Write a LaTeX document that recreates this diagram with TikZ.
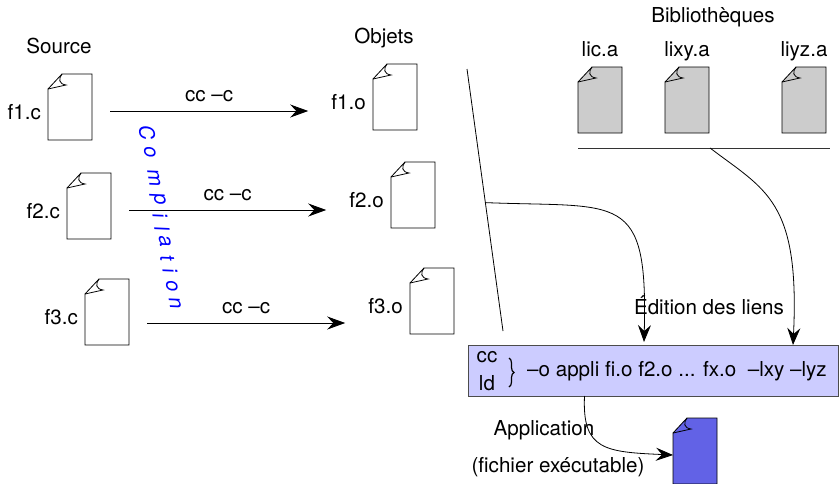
\documentclass[tikz,border=0pt]{standalone}
\usepackage{fontspec}
\setmainfont{TeX Gyre Heros}
\usetikzlibrary{positioning,calc,arrows.meta,decorations.pathreplacing}
\definecolor{boitelien}{RGB}{204,204,255}
\definecolor{bleuappli}{RGB}{98,98,230}
\tikzset{
  fichier/.style={minimum width=44pt,minimum height=66pt,inner sep=0pt,outer sep=0pt},
  nomfichier/.style={inner sep=0pt,yshift=-5pt},
  nomlib/.style={inner sep=0pt,text height=15pt,text depth=5pt},
  fleche/.style={-{Stealth[length=18pt,width=13pt,inset=6pt]},line width=0.9pt},
  courbe/.style={-{Stealth[length=17pt,width=13pt,inset=6pt]},line width=0.8pt},
  lettre/.style={text=blue,font=\fontsize{20.6}{24}\selectfont\itshape,rotate=-80.5,inner sep=0pt}
}
%page icon: name, centre, fill
\newcommand{\page}[3]{%
  \node[fichier] (#1) at (#2) {};
  \filldraw[fill=#3,line width=0.8pt] ([xshift=14pt]#1.north west) -- (#1.north east) -- (#1.south east) -- (#1.south west) -- ([yshift=-15pt]#1.north west) -- cycle;
  \draw[line width=0.8pt] ([yshift=-15pt]#1.north west) -- ([shift={(18pt,-11pt)}]#1.north west) .. controls ([shift={(11pt,-10pt)}]#1.north west) and ([shift={(10pt,-5pt)}]#1.north west) .. ([xshift=14pt]#1.north west);
}
\begin{document}
\begin{tikzpicture}[x=1pt,y=-1pt,font=\fontsize{20.6}{24}\selectfont]
\useasboundingbox (0,0) rectangle (839,483);

%titles
\node (source) at (59,46) {Source};
\node (objets) at (384,38) {Objets};
\node (biblio) at (713,17) {Bibliothèques};

%sources
\page{f1c}{70,107}{white}
\page{f2c}{89,206}{white}
\page{f3c}{107,312}{white}
\node[nomfichier,left=7pt of f1c] (nf1c) {f1.c};
\node[nomfichier,left=7pt of f2c] (nf2c) {f2.c};
\node[nomfichier,left=7pt of f3c] (nf3c) {f3.c};

%objects
\page{f1o}{395,97}{white}
\page{f2o}{413,195}{white}
\page{f3o}{432,301}{white}
\node[nomfichier,left=7pt of f1o] (nf1o) {f1.o};
\node[nomfichier,left=7pt of f2o] (nf2o) {f2.o};
\node[nomfichier,left=7pt of f3o] (nf3o) {f3.o};

%libraries
\page{lic}{600,100}{black!20}
\page{lixy}{687,100}{black!20}
\page{liyz}{804,100}{black!20}
\node[nomlib,above=5pt of lic] (nlic) {lic.a};
\node[nomlib,above=5pt of lixy] (nlixy) {lixy.a};
\node[nomlib,above=5pt of liyz] (nliyz) {liyz.a};

%compile arrows
\foreach \src/\obj/\dy in {f1c/f1o/-4pt,f2c/f2o/-4pt,f3c/f3o/-11pt}
  \draw[fleche] ([shift={(18pt,\dy)}]\src.east) -- ([shift={(-23pt,\dy)}]\src.east -| n\obj.west) node[midway,above=9pt,inner sep=0pt] (cc\src) {cc –c};

%vertical word
\foreach \l/\xx/\yy in {C/147/133,o/150/152,m/154/178,p/158/200,i/160/216,l/162/229,a/165/241,t/167/258,i/170/271,o/172/286,n/175/303}
  \node[lettre] (c\yy) at (\xx,\yy) {\l};

%link box
\node[draw=black!70,fill=boitelien,line width=0.9pt,minimum width=370pt,minimum height=51pt,inner sep=0pt,outer sep=0pt] (boite) at (653,370.5) {};
\node[inner sep=0pt] (cc) at (487,357) {cc};
\node[inner sep=0pt] (ld) at (487,383) {ld};
\draw[decorate,decoration={brace,amplitude=5pt},line width=1.2pt] (509,358) -- (509,387);
\node[inner sep=0pt,anchor=west] (cmd) at (527,371) {–o appli fi.o f2.o ... fx.o\ \ –lxy –lyz};

%separators
\coordinate (sepA) at (467,69);
\coordinate (sepB) at (503,331);
\draw[line width=0.8pt] (sepA) -- (sepB);
\coordinate (barG) at (578,148);
\coordinate (barD) at (830,148);
\draw[line width=0.9pt,black!80] (barG) -- (barD);

%links
\page{appli}{695,451}{bleuappli}
\draw[courbe] ($(sepA)!0.51!(sepB)$) .. controls (620,208) and (648,190) .. ([xshift=-9pt,yshift=3pt]boite.north);
\draw[courbe] ($(barG)!0.524!(barD)$) .. controls (765,190) and (800,200) .. ([xshift=140pt]boite.north);
\draw[courbe] ([xshift=-68.5pt]boite.south) .. controls (582,450) and (605,452) .. ([yshift=-4pt]appli.west);

\node (edition) at (709,305) {Édition des liens};
\node (application) at (544,430) {Application};
\node (execut) at (558,467) {(fichier exécutable)};
\end{tikzpicture}
\end{document}
